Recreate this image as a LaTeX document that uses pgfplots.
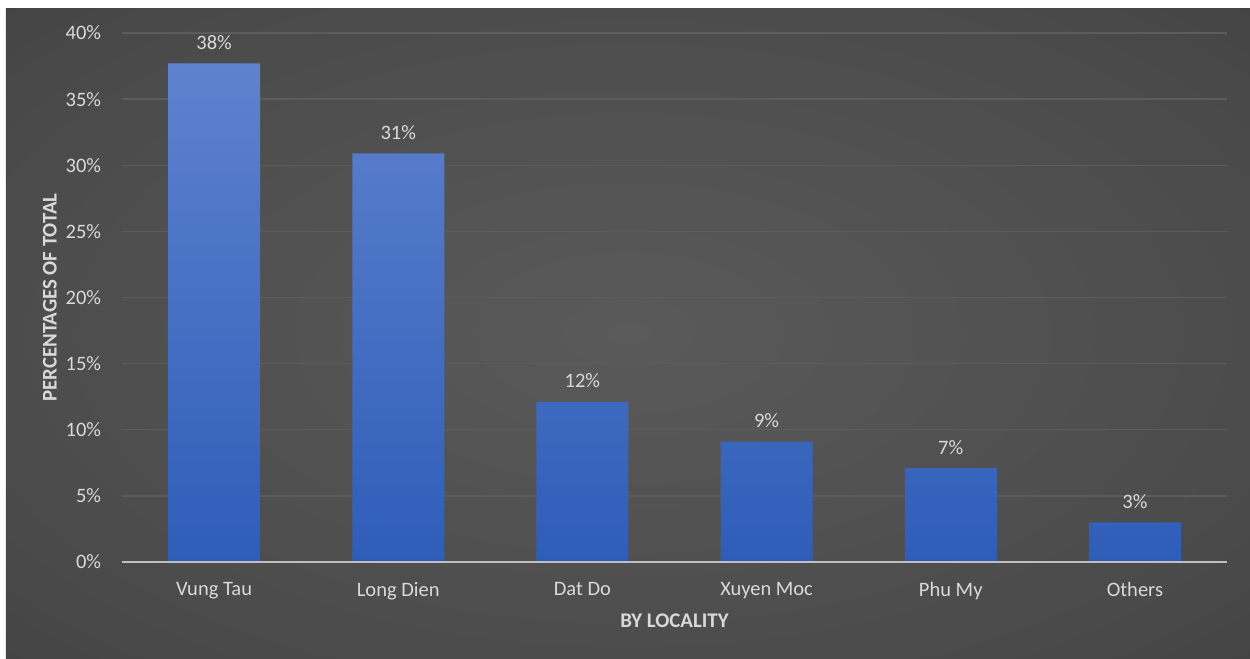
\documentclass[border=0pt]{standalone}
\usepackage{pgfplots}
\pgfplotsset{compat=1.18}
\usepackage{fontspec}
\setmainfont{Carlito}
\definecolor{bgin}{HTML}{5A5A5A}
\definecolor{bgout}{HTML}{222222}
\definecolor{txt}{HTML}{D9D9D9}
\definecolor{gridc}{HTML}{5C5C5C}
\definecolor{bartop}{HTML}{5E82CE}
\definecolor{barbot}{HTML}{2E5DB8}
\definecolor{zeroline}{HTML}{BFBFBF}
\pgfdeclareradialshading{bgshade}{\pgfpoint{0bp}{0bp}}{color(0bp)=(bgin); color(30bp)=(bgin!70!bgout); color(71bp)=(bgout)}
\begin{document}
\begin{tikzpicture}
\fill[white] (-73.2pt,-57.6pt) rectangle (676.8pt,337.2pt);
\shade[shading=bgshade] (-69.6pt,-57.6pt) rectangle (676.8pt,332.4pt);
\begin{axis}[
  at={(0,0)}, anchor=south west,
  scale only axis, width=663pt, height=317.4pt,
  xmin=-0.5, xmax=5.5, ymin=0, ymax=40,
  ytick={0,5,...,40},
  xtick=data,
  xticklabels={Vung Tau, Long Dien, Dat Do, Xuyen Moc, Phu My, Others},
  yticklabel={\pgfmathprintnumber{\tick}\%},
  /pgf/number format/assume math mode=true,
  major tick length=0pt,
  axis line style={draw=none},
  ymajorgrids, grid style={gridc, line width=0.8pt},
  ticklabel style={text=txt, font=\fontsize{12.3}{14}\selectfont},
  yticklabel shift=9pt,
  xticklabel shift=8.8pt,
  xlabel={BY LOCALITY}, ylabel={PERCENTAGES OF TOTAL},
  every axis x label/.style={at={(axis description cs:0.5,-0.1115)}, anchor=center, text=txt, font=\bfseries\fontsize{12.5}{14}\selectfont},
  every axis y label/.style={at={(axis description cs:-0.0652,0.5)}, rotate=90, anchor=center, text=txt, font=\bfseries\fontsize{12.5}{14}\selectfont},
  clip=false,
  nodes near coords={\pgfmathprintnumber[fixed,precision=0]{\pgfplotspointmeta}\%},
  every node near coord/.append style={anchor=center, yshift=12.6pt, text=txt, font=\fontsize{12.3}{14}\selectfont},
]
\addplot[ybar, bar width=55.2pt, draw=none, top color=bartop, bottom color=barbot]
  coordinates {(0,37.7) (1,30.9) (2,12.1) (3,9.1) (4,7.1) (5,3.0)};
\draw[zeroline, line width=1.1pt] (axis cs:-0.5,0) -- (axis cs:5.5,0);
\end{axis}
\pgfresetboundingbox
\path (-73.2pt,-57.6pt) rectangle (676.8pt,337.2pt);
\end{tikzpicture}
\end{document}
